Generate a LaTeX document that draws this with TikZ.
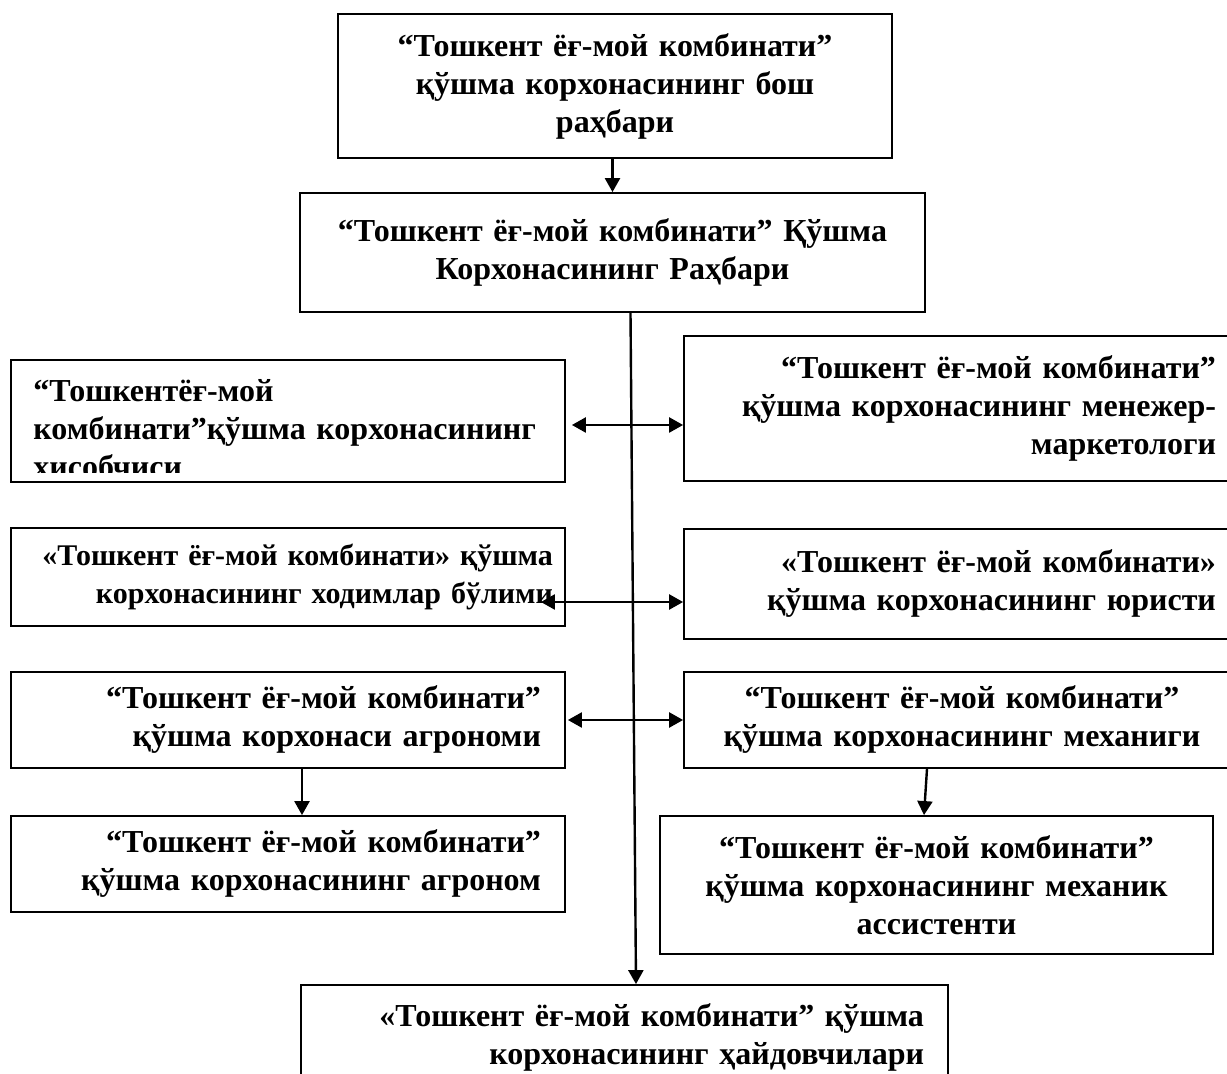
\documentclass[tikz,border=0pt]{standalone}
\usepackage{fontspec}
\setmainfont{Liberation Serif}
\usetikzlibrary{arrows.meta}

\begin{document}
\begin{tikzpicture}[
    x=0.5pt, y=-0.5pt,
    font=\fontsize{16}{19}\selectfont\bfseries,
    block/.style={rectangle, draw, line width=0.9pt, inner xsep=12pt, inner ysep=0pt},
    arrow/.style={->, >={Triangle[length=7pt,width=7.5pt]}, line width=1.2pt},
    darrow/.style={arrow, <->}
]
    \clip (0,0) rectangle (1227,1074);

    \node [block, text width=253pt, minimum height=72pt, align=center] (boss) at (615,86) {“Тошкент ёғ-мой комбинати”\\қўшма корхонасининг бош\\раҳбари};
    \node [block, text width=288.5pt, minimum height=59.5pt, align=center] (head) at (612.5,252.5) {“Тошкент ёғ-мой комбинати” Қўшма\\Корхонасининг Раҳбари};

    \node [block, minimum width=277pt, minimum height=61pt] (acc) at (288,421) {};
    \begin{scope}
        \clip ([yshift=5pt]acc.south west) rectangle (acc.north east);
        \node [anchor=base west, inner sep=0pt, text width=260pt, align=left] (acctext) at (33,402) {“Тошкентёғ-мой\\\makebox[\linewidth][s]{комбинати”қўшма корхонасининг}\\хисобчиси};
    \end{scope}
    \node [block, text width=254pt, minimum height=72.5pt, align=right] (mkt) at (962,408.5) {“Тошкент ёғ-мой комбинати”\\қўшма корхонасининг менежер-\\маркетологи};

    \node [block, inner xsep=6pt, text width=265pt, minimum height=49pt, align=right, font=\fontsize{15}{19}\selectfont\bfseries] (hr) at (288,577) {«Тошкент ёғ-мой комбинати» қўшма\\корхонасининг ходимлар бўлими};
    \node [block, text width=254pt, minimum height=55pt, align=right] (law) at (962,584) {«Тошкент ёғ-мой комбинати»\\қўшма корхонасининг юристи};

    \node [block, text width=253pt, minimum height=48pt, align=right] (agr) at (288,720) {“Тошкент ёғ-мой комбинати”\\қўшма корхонаси агрономи};
    \node [block, text width=254pt, minimum height=48pt, align=center] (mech) at (962,720) {“Тошкент ёғ-мой комбинати”\\қўшма корхонасининг механиги};

    \node [block, text width=253pt, minimum height=48pt, align=right] (agr2) at (288,864) {“Тошкент ёғ-мой комбинати”\\қўшма корхонасининг агроном};
    \node [block, text width=252.5pt, minimum height=69pt, align=center] (mech2) at (936.5,885) {“Тошкент ёғ-мой комбинати”\\қўшма корхонасининг механик\\ассистенти};

    \node [block, text width=299.5pt, minimum height=52.5pt, align=right] (drv) at (624.5,1037.5) {«Тошкент ёғ-мой комбинати” қўшма\\корхонасининг ҳайдовчилари};

    \draw [arrow] (head.north |- boss.south) -- (head.north);
    \draw [arrow] ([xshift=9pt]head.south) -- ([xshift=5.75pt]drv.north);
    \draw [darrow] ([xshift=3pt,yshift=-2pt]acc.east) -- ([yshift=-2pt]acc.east -| mkt.west);
    \draw [darrow] ([xshift=-12.5pt,yshift=-12.5pt]hr.east) -- ([yshift=-12.5pt]hr.east -| law.west);
    \draw [darrow] ([xshift=1pt]agr.east) -- (mech.west);
    \draw [arrow] ([xshift=7pt]agr.south) -- ([xshift=7pt]agr2.north);
    \draw [arrow] ([xshift=-17.5pt]mech.south) -- ([xshift=-6.25pt]mech2.north);
\end{tikzpicture}
\end{document}
